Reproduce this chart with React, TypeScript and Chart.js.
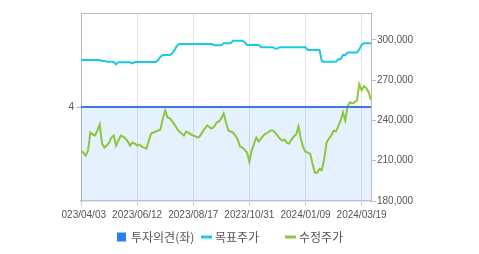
import React, { useEffect, useRef } from "react";
import { Chart, registerables } from "chart.js";

Chart.register(...registerables);

// ---- data ----
const tickIndex = [0, 24, 48, 72, 96, 120];
const tickLabels = ["2023/04/03", "2023/06/12", "2023/08/17", "2023/10/31", "2024/01/09", "2024/03/19"];
const seriesNames = ["투자의견(좌)", "목표주가", "수정주가"];
const opinionIdx = [0, 124];
const opinionVal = [4, 4];
const leftTicks = [4];
const rightTicks = [180000, 210000, 240000, 270000, 300000];

const targetPrice = [
  285000, 285000, 285000, 285000, 285000, 285000, 285000, 285000, 285000, 284250,
  284250, 283750, 283750, 283750, 283750, 281750, 283250, 283250, 283250, 283250,
  283250, 283250, 282500, 283500, 283500, 283500, 283500, 283500, 283500, 283500,
  283500, 283500, 283500, 285000, 287500, 288750, 288750, 288750, 288750, 290000,
  292500, 295500, 297000, 297000, 297000, 297000, 297000, 297000, 297000, 297000,
  297000, 297000, 297000, 297000, 297000, 297000, 297000, 296000, 296000, 296000,
  296000, 297500, 297500, 297500, 297500, 299250, 299250, 299250, 299250, 299250,
  298250, 296250, 296250, 296250, 296250, 296250, 296250, 294500, 294500, 294500,
  294500, 294500, 294500, 293500, 293500, 294500, 294500, 294500, 294500, 294500,
  294500, 294500, 294500, 294500, 294500, 294500, 294500, 292500, 292500, 292500,
  292500, 292500, 292500, 284000, 283750, 283750, 283750, 283750, 283750, 283750,
  285500, 285500, 288750, 288750, 290500, 290500, 290500, 290500, 290500, 293000,
  296250, 297500, 297500, 297500, 297500,
];

const adjPrice = [
  217500, 216000, 213750, 217500, 231000, 229500, 228750, 232500, 237000, 222750,
  219750, 221250, 223500, 227250, 228750, 221250, 225000, 228750, 228000, 226500,
  224250, 221250, 223500, 222750, 221250, 222000, 220500, 219750, 219000, 225000,
  230250, 231000, 231750, 232500, 233250, 241500, 247500, 242250, 241500, 239250,
  237000, 234000, 231750, 230250, 228750, 231750, 231000, 229500, 228750, 228000,
  227250, 228750, 231750, 234000, 236250, 234750, 234000, 235500, 238500, 239250,
  241500, 245250, 238500, 232500, 231750, 231000, 228750, 225750, 220500, 219750,
  218250, 216000, 209250, 217500, 222750, 227250, 224250, 226500, 228750, 230250,
  231000, 232500, 232500, 231000, 228750, 226500, 225000, 225750, 223500, 222750,
  225750, 228000, 229500, 235500, 226500, 219750, 216750, 216000, 215250, 207750,
  201000, 201000, 204000, 203250, 211500, 223500, 226500, 228750, 232500, 231750,
  235500, 240000, 246000, 240000, 250500, 253500, 252750, 253500, 255000, 267000,
  262500, 265500, 264000, 261000, 255000,
];

// ---- styles ----
const BLUE_LINE = "#3b7ad9";
const BLUE_BOX = "#2a7ef0";
const FILL = "rgba(0,120,240,0.1)";
const CYAN = "#1cc8e8";
const GREEN = "#8dc63f";
const GRID = "#dfe6f0";
const AXIS = "#bcbcbc";
const BOTTOM_AXIS = "#c6ccd6";
const TEXT = "#555555";
const TICK_FONT = { family: "'Liberation Sans', Arial, sans-serif", size: 10 };
const LEGEND_FONT = "12px 'Noto Sans CJK KR', 'Noto Sans', sans-serif";

const framePlugin = {
  id: "frameTop",
  afterDraw(chart: any) {
    const { ctx, chartArea } = chart;
    ctx.save();
    ctx.strokeStyle = AXIS;
    ctx.lineWidth = 1;
    ctx.beginPath();
    ctx.moveTo(chartArea.left, chartArea.top + 0.5);
    ctx.lineTo(chartArea.right, chartArea.top + 0.5);
    ctx.stroke();
    ctx.restore();
  },
};

const legendPlugin = {
  id: "cellLegend",
  afterDraw(chart: any) {
    const { ctx, chartArea } = chart;
    const y = chart.height - 17.5;
    const cell = 84;
    const x0 = chartArea.left + 36;
    ctx.save();
    ctx.font = LEGEND_FONT;
    ctx.textBaseline = "middle";
    chart.data.datasets.forEach((ds: any, i: number) => {
      const x = x0 + i * cell;
      if (i === 0) {
        ctx.fillStyle = BLUE_BOX;
        ctx.fillRect(x, y - 4, 9, 9);
      } else {
        ctx.strokeStyle = ds.borderColor;
        ctx.lineWidth = 3;
        ctx.beginPath();
        ctx.moveTo(x, y + 0.5);
        ctx.lineTo(x + 11, y + 0.5);
        ctx.stroke();
      }
      ctx.fillStyle = TEXT;
      ctx.fillText(ds.label, x + 14, y + 0.5);
    });
    ctx.restore();
  },
};

export default function App() {
  const ref = useRef<HTMLCanvasElement | null>(null);

  useEffect(() => {
    if (!ref.current) return;
    const chart = new Chart(ref.current, {
      type: "line",
      data: {
        datasets: [
          {
            label: seriesNames[0],
            data: opinionIdx.map((x, i) => ({ x, y: opinionVal[i] })),
            yAxisID: "yL",
            borderColor: BLUE_LINE,
            borderWidth: 2,
            backgroundColor: FILL,
            fill: "start",
            pointRadius: 0,
            tension: 0,
          },
          {
            label: seriesNames[1],
            data: targetPrice.map((y, x) => ({ x, y })),
            yAxisID: "yR",
            borderColor: CYAN,
            borderWidth: 2,
            fill: false,
            pointRadius: 0,
            tension: 0,
          },
          {
            label: seriesNames[2],
            data: adjPrice.map((y, x) => ({ x, y })),
            yAxisID: "yR",
            borderColor: GREEN,
            borderWidth: 2,
            fill: false,
            pointRadius: 0,
            tension: 0,
          },
        ],
      },
      options: {
        responsive: false,
        animation: false,
        events: [],
        layout: { padding: { top: 13, bottom: 28, left: 0, right: 0 } },
        plugins: {
          legend: { display: false },
          tooltip: { enabled: false },
          filler: { drawTime: "beforeDatasetsDraw" },
        },
        scales: {
          x: {
            type: "linear",
            position: "bottom",
            min: 0,
            max: targetPrice.length - 1,
            afterBuildTicks: (s: any) => {
              s.ticks = tickIndex.map((v) => ({ value: v }));
            },
            afterFit: (s: any) => {
              s.height = 25;
              s.paddingLeft = 0;
              s.paddingRight = 0;
            },
            ticks: {
              autoSkip: false,
              maxRotation: 0,
              padding: 3,
              color: TEXT,
              font: TICK_FONT,
              callback: (_v: any, i: number) => tickLabels[i],
            },
            grid: { color: GRID, tickLength: 5, drawTicks: true, tickColor: "#c8ced8" },
            border: { color: BOTTOM_AXIS, width: 1.5 },
          },
          yL: {
            position: "left",
            min: 0,
            max: 8,
            afterBuildTicks: (s: any) => {
              s.ticks = leftTicks.map((v) => ({ value: v }));
            },
            afterFit: (s: any) => {
              s.width = 19;
              s.paddingTop = 0;
              s.paddingBottom = 0;
            },
            ticks: { padding: 2, color: TEXT, font: TICK_FONT },
            grid: { drawOnChartArea: false, tickLength: 5, color: AXIS },
            border: { color: AXIS },
          },
          yR: {
            position: "right",
            min: 180000,
            max: 320000,
            afterBuildTicks: (s: any) => {
              s.ticks = rightTicks.map((v) => ({ value: v }));
            },
            afterFit: (s: any) => {
              s.width = 49;
              s.paddingTop = 0;
              s.paddingBottom = 0;
            },
            ticks: {
              padding: 1,
              color: TEXT,
              font: TICK_FONT,
              callback: (v: any) => Number(v).toLocaleString("en-US"),
            },
            grid: { drawOnChartArea: false, tickLength: 5, color: AXIS },
            border: { color: AXIS },
          },
        },
      } as any,
      plugins: [framePlugin, legendPlugin],
    });
    return () => chart.destroy();
  }, []);

  return (
    <div style={{ position: "absolute", left: 62, top: 0, width: 358, height: 254 }}>
      <canvas ref={ref} width={358} height={254} style={{ display: "block", width: 358, height: 254 }} />
    </div>
  );
}
